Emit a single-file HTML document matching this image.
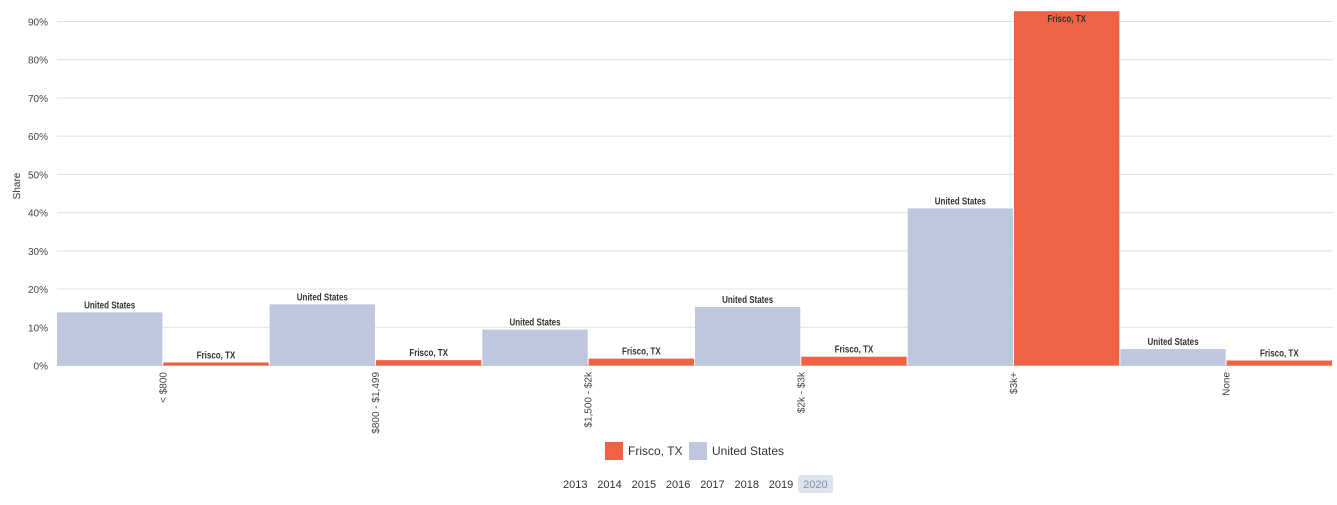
<!DOCTYPE html>
<html><head><meta charset="utf-8"><style>
body{margin:0;background:#fff;font-family:"Liberation Sans",sans-serif;}
svg text{font-family:"Liberation Sans",sans-serif;}
</style></head><body>
<svg id="c" width="1337" height="500"></svg>
<script>
const categories=["< $800","$800 - $1,499","$1,500 - $2k","$2k - $3k","$3k+","None"];
const usValues=[13.9,16.0,9.4,15.3,41.1,4.3];
const friscoValues=[0.8,1.4,1.8,2.3,92.7,1.3];
const yTicks=[0,10,20,30,40,50,60,70,80,90];
const years=["2013","2014","2015","2016","2017","2018","2019","2020"];
const NS="http://www.w3.org/2000/svg";
const svg=document.getElementById('c');
const x0=57,x1=1333,y0=365.5,pxPer=3.822;
const y=v=>y0-v*pxPer;
const gw=(x1-x0)/categories.length;
function el(t,a,p){const e=document.createElementNS(NS,t);for(const k in a)e.setAttribute(k,a[k]);(p||svg).appendChild(e);return e;}
yTicks.forEach(t=>{
 const l=el('line',{x1:x0,x2:x1,y1:y(t),y2:y(t),stroke:t===0?'#ccc':'#e0e0e0','stroke-width':1});
 
 
 const tx=el('text',{x:48,y:y(t)+4,'text-anchor':'end','font-size':10,fill:'#444'});
 tx.textContent=t+'%';
 
 
});
const yt=el('text',{transform:'translate(20,186) rotate(-90)','text-anchor':'middle','font-size':10,fill:'#333'});
yt.textContent='Share';


categories.forEach((c,i)=>{
 const gx=x0+i*gw, bw=gw/2-1;
 [[usValues[i],'#bfc7df','United States',gx],[friscoValues[i],'#ef6244','Frisco, TX',gx+gw/2]].forEach(([v,col,name,bx])=>{
  const r=el('rect',{x:bx,y:y(v),width:bw,height:y0-y(v),fill:col});
  
  
  const inside=v>85;
  const t=el('text',{x:bx+bw/2,y:inside?y(v)+11:y(v)-4,'text-anchor':'middle','font-size':10,fill:'#333','font-weight':'bold',transform:`translate(${bx+bw/2},0) scale(0.8,1) translate(${-(bx+bw/2)},0)`});
  t.textContent=name;
  
  
 });
 const cx=gx+gw/2;
 const lt=el('text',{transform:`translate(${cx+3},372) rotate(-90)`,'text-anchor':'end','font-size':10,fill:'#444'});
 lt.textContent=c;
 
 
});
const lg=el('g',{});


[['#ef6244','Frisco, TX',605],['#bfc7df','United States',689]].forEach(([col,n,lx])=>{
 const s=el('rect',{x:lx,y:442,width:18,height:18,fill:col},lg);
 
 
 const t=el('text',{x:lx+23,y:455,'font-size':12,fill:'#333'},lg);
 t.textContent=n;
 
 
});
years.forEach((yr,i)=>{
 const bx=563+i*34.3;
 if(yr==='2020'){const b=el('rect',{x:bx-5,y:475,width:35,height:18,rx:3,fill:'#dde2ef'});}
 const t=el('text',{x:bx,y:488,'font-size':11,fill:yr==='2020'?'#8890a8':'#333'});
 t.textContent=yr;
 
 
});
</script>
</body></html>
